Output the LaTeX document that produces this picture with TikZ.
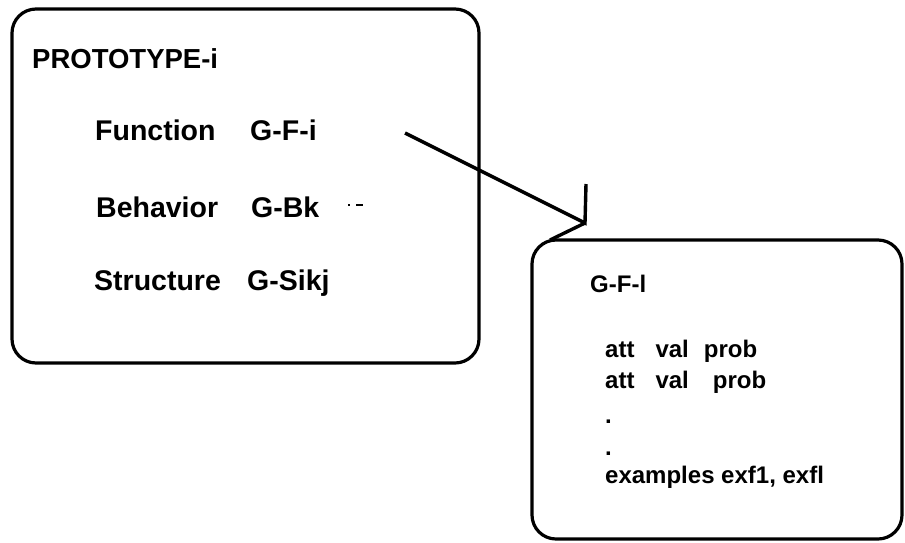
\documentclass[tikz,border=0pt]{standalone}
\usepackage{fontspec}
\setmainfont{Liberation Sans}
\usetikzlibrary{positioning}

\begin{document}
\begin{tikzpicture}[x=1pt, y=-1pt, cadre/.style={draw, line width=3.2pt, rounded corners=24pt}, trait/.style={line width=3.4pt}, grand/.style={anchor=base west, inner sep=0pt, font=\fontsize{28.5}{32}\selectfont\bfseries}, petit/.style={anchor=base west, inner sep=0pt, font=\fontsize{24}{27}\selectfont\bfseries}]
    \useasboundingbox (0,0) rectangle (905,542);

    \draw[cadre] (12,9) rectangle (479,363);
    \draw[cadre] (532,240) rectangle (902,539);

    \node (proto) [grand, font=\fontsize{27.5}{30}\selectfont\bfseries] at (32,68) {PROTOTYPE-i};
    \node (func) [grand] at (95,140) {Function};
    \node (funcval) [grand] at (250,140) {G-F-i};
    \node (behav) [grand] at (96,217) {Behavior};
    \node (behavval) [grand] at (251,217) {G-Bk};
    \node (struct) [grand] at (94,290) {Structure};
    \node (structval) [grand] at (247,290) {G-Sikj};
    \draw[line width=1.2pt] (348,205) -- (350,205) (356,205) -- (363,205);

    \node (titre) [petit] at (590,292) {G-F-l};
    \node (ligne1) [petit] at (605,357) {att\hspace{21pt}val\hspace{15pt}prob};
    \node (ligne2) [petit] at (605,388) {att\hspace{21pt}val\hspace{24pt}prob};
    \node (point1) [petit] at (605,423) {.};
    \node (point2) [petit] at (605,455) {.};
    \node (exemples) [petit] at (605,483) {examples exf1, exfl};

    \coordinate (depart) at (405,133);
    \coordinate (pointe) at (585,223);
    \coordinate (haut) at (586,184);
    \coordinate (coin) at (550,240);
    \draw[trait] (depart) -- (pointe) -- (haut);
    \draw[trait] (pointe) -- (coin);
\end{tikzpicture}
\end{document}
